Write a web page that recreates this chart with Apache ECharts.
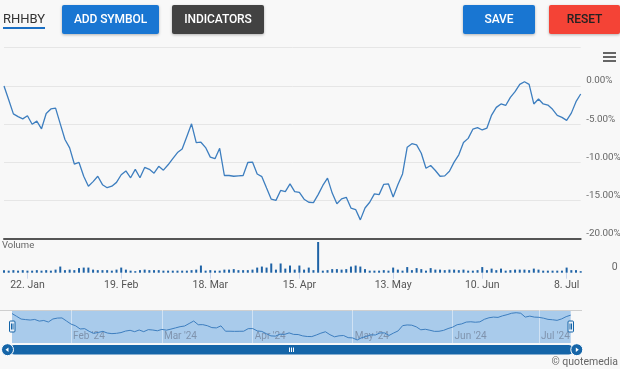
<!DOCTYPE html>
<html>
<head>
<meta charset="utf-8">
<script src="https://cdn.jsdelivr.net/npm/echarts@6/dist/echarts.min.js"></script>
<style>
  html, body { margin: 0; padding: 0; background: #f8f8f8; }
  #wrap { position: relative; width: 620px; height: 369px; overflow: hidden; font-family: Roboto, "Noto Sans", sans-serif; }
  #chart { position: absolute; left: 0; top: 0; width: 620px; height: 369px; }
  .btn { position: absolute; top: 5px; height: 29px; line-height: 29px; text-align: center; font-size: 12px; font-weight: 500; border-radius: 2px; box-shadow: 0 1px 3px rgba(0,0,0,0.28); letter-spacing: -0.1px; }
  #sym { position: absolute; left: 3px; top: 11px; font-size: 13px; color: #333; line-height: 16px; }
  #symline { position: absolute; left: 3px; top: 27px; width: 42px; height: 2px; background: #1a6fc4; }
  .hb { position: absolute; left: 603px; width: 13px; height: 2px; background: #666; }
</style>
</head>
<body>
<div id="wrap">
  <div id="chart"></div>
  <div id="sym">RHHBY</div>
  <div id="symline"></div>
  <div class="btn" style="left:62px;width:97px;background:#1976d2;color:#fff;">ADD SYMBOL</div>
  <div class="btn" style="left:172px;width:92px;background:#424242;color:#fff;">INDICATORS</div>
  <div class="btn" style="left:463px;width:72px;background:#1976d2;color:#fff;">SAVE</div>
  <div class="btn" style="left:549px;width:71px;background:#f44336;color:#222;">RESET</div>
  <div class="hb" style="top:52px"></div>
  <div class="hb" style="top:56px"></div>
  <div class="hb" style="top:60px"></div>
</div>
<script>
const dates = [
  '2024-01-12','2024-01-16','2024-01-17','2024-01-18','2024-01-19','2024-01-22','2024-01-23','2024-01-24','2024-01-25','2024-01-26',
  '2024-01-29','2024-01-30','2024-01-31','2024-02-01','2024-02-02','2024-02-05','2024-02-06','2024-02-07','2024-02-08','2024-02-09',
  '2024-02-12','2024-02-13','2024-02-14','2024-02-15','2024-02-16','2024-02-20','2024-02-21','2024-02-22','2024-02-23','2024-02-26',
  '2024-02-27','2024-02-28','2024-02-29','2024-03-01','2024-03-04','2024-03-05','2024-03-06','2024-03-07','2024-03-08','2024-03-11',
  '2024-03-12','2024-03-13','2024-03-14','2024-03-15','2024-03-18','2024-03-19','2024-03-20','2024-03-21','2024-03-22','2024-03-25',
  '2024-03-26','2024-03-27','2024-03-28','2024-04-01','2024-04-02','2024-04-03','2024-04-04','2024-04-05','2024-04-08','2024-04-09',
  '2024-04-10','2024-04-11','2024-04-12','2024-04-15','2024-04-16','2024-04-17','2024-04-18','2024-04-19','2024-04-22','2024-04-23',
  '2024-04-24','2024-04-25','2024-04-26','2024-04-29','2024-04-30','2024-05-01','2024-05-02','2024-05-03','2024-05-06','2024-05-07',
  '2024-05-08','2024-05-09','2024-05-10','2024-05-13','2024-05-14','2024-05-15','2024-05-16','2024-05-17','2024-05-20','2024-05-21',
  '2024-05-22','2024-05-23','2024-05-24','2024-05-28','2024-05-29','2024-05-30','2024-05-31','2024-06-03','2024-06-04','2024-06-05',
  '2024-06-06','2024-06-07','2024-06-10','2024-06-11','2024-06-12','2024-06-13','2024-06-14','2024-06-17','2024-06-18','2024-06-20',
  '2024-06-21','2024-06-24','2024-06-25','2024-06-26','2024-06-27','2024-06-28','2024-07-01','2024-07-02','2024-07-03','2024-07-05',
  '2024-07-08','2024-07-09','2024-07-10','2024-07-11'
];
const pctChange = [
  0, -1.8, -3.65, -4.0, -4.3, -3.9, -5.0, -4.6, -5.6, -3.6,
  -3.0, -2.9, -4.95, -7.0, -8.1, -10.2, -10.0, -11.8, -13.1, -12.5,
  -11.8, -12.9, -13.3, -13.1, -12.6, -11.6, -11.1, -12.0, -10.9, -12.0,
  -10.65, -10.9, -11.4, -10.5, -11.0, -10.3, -9.5, -8.7, -8.25, -6.6,
  -4.95, -7.4, -7.35, -8.05, -9.3, -9.5, -8.15, -11.7, -11.7, -11.8,
  -11.75, -11.7, -10.0, -9.95, -11.5, -11.85, -13.35, -14.8, -14.95, -13.65,
  -13.8, -12.8, -13.8, -13.9, -14.8, -15.2, -15.25, -14.2, -13.0, -12.05,
  -14.0, -15.4, -14.75, -14.55, -15.95, -16.15, -17.5, -15.95, -15.2, -14.1,
  -14.2, -12.85, -12.8, -14.5, -12.9, -11.5, -8.0, -7.55, -7.7, -8.8,
  -10.75, -10.4, -11.05, -11.8, -11.75, -11.15, -9.95, -9.0, -7.4, -6.85,
  -5.65, -5.45, -5.75, -5.5, -3.8, -2.8, -2.35, -2.55, -1.5, -0.75,
  0.2, 0.55, 0.2, -2.35, -1.7, -2.35, -2.5, -3.05, -3.85, -4.1,
  -4.5, -3.55, -2.05, -1.05
];
const volumeK = [
  50, 40, 50, 40, 50, 40, 40, 50, 40, 50,
  40, 60, 120, 50, 60, 50, 90, 100, 100, 60,
  50, 50, 50, 40, 60, 100, 60, 40, 30, 50,
  60, 50, 50, 50, 40, 40, 40, 40, 40, 40,
  50, 60, 140, 40, 50, 40, 40, 60, 60, 70,
  50, 50, 50, 60, 100, 120, 100, 180, 60, 180,
  80, 140, 60, 140, 60, 100, 50, 600, 40, 50,
  70, 70, 60, 70, 120, 140, 120, 70, 40, 40,
  40, 50, 40, 100, 60, 40, 110, 50, 90, 70,
  40, 90, 60, 60, 50, 60, 60, 50, 60, 40,
  40, 50, 110, 50, 80, 50, 80, 40, 50, 60,
  60, 60, 50, 80, 60, 40, 40, 40, 40, 40,
  100, 50, 50, 30
];
const yTicks = [-20, -15, -10, -5, 0, 5];
const tickDates = ['2024-01-22','2024-02-19','2024-03-18','2024-04-15','2024-05-13','2024-06-10','2024-07-08'];
const tickLabels = ['22. Jan','19. Feb','18. Mar','15. Apr','13. May','10. Jun','8. Jul'];
const navMonths = ['2024-02','2024-03','2024-04','2024-05','2024-06','2024-07'];
const navLabels = ["Feb '24","Mar '24","Apr '24","May '24","Jun '24","Jul '24"];

const tickMap = new Map();
tickDates.forEach((d, k) => {
  const i = dates.findIndex(x => x >= d);
  if (i >= 0) tickMap.set(i, tickLabels[k]);
});
const navMap = new Map();
navMonths.forEach((m, k) => {
  const i = dates.findIndex(x => x.startsWith(m));
  if (i >= 0) navMap.set(i, navLabels[k]);
});

const chart = echarts.init(document.getElementById('chart'), null, { renderer: 'canvas' });
const FONT = 'Roboto, "Noto Sans", sans-serif';
const lineColor = '#3d7ebf';
const darkBlue = '#1565a8';

chart.setOption({
  animation: false,
  backgroundColor: 'transparent',
  textStyle: { fontFamily: FONT },
  grid: [
    { left: 4, right: 39.3, top: 47.7, bottom: 130, containLabel: false, outerBoundsMode: 'none' },
    { left: 4, right: 39.3, top: 242, bottom: 96.3, containLabel: false, outerBoundsMode: 'none' },
    { left: 12, right: 49.3, top: 310, bottom: 26, containLabel: false, outerBoundsMode: 'none' }
  ],
  xAxis: [
    { type: 'category', gridIndex: 0, data: dates, boundaryGap: false,
      axisLine: { show: true, onZero: false, lineStyle: { color: '#555', width: 2 } },
      axisTick: { show: false }, axisLabel: { show: false }, splitLine: { show: false } },
    { type: 'category', gridIndex: 1, data: dates, boundaryGap: false,
      axisLine: { show: false, onZero: false },
      axisTick: { show: true, length: 6, interval: (i) => tickMap.has(i), lineStyle: { color: '#ccd6eb' } },
      axisLabel: { show: true, interval: (i) => tickMap.has(i), formatter: (v, i) => tickMap.get(i) || '',
        color: '#555', fontSize: 10.5, margin: 7, fontFamily: FONT },
      splitLine: { show: false } },
    { type: 'category', gridIndex: 2, data: dates, boundaryGap: false, z: 2,
      axisLine: { show: false, onZero: false }, axisTick: { show: false },
      axisLabel: { show: true, inside: true, interval: (i) => navMap.has(i), formatter: (v, i) => navMap.get(i) || '',
        align: 'left', padding: [0, 0, 0, 2], color: '#7f93ad', fontSize: 10, margin: 2, fontFamily: FONT },
      splitLine: { show: true, interval: (i) => navMap.has(i), lineStyle: { color: 'rgba(255,255,255,0.45)', width: 1 } } }
  ],
  yAxis: [
    { type: 'value', gridIndex: 0, position: 'right', min: yTicks[0], max: yTicks[yTicks.length - 1], interval: 5,
      axisLine: { show: false }, axisTick: { show: false },
      splitLine: { show: true, lineStyle: { color: '#e6e6e6', width: 1 } },
      axisLabel: { show: true, margin: 5.5, verticalAlign: 'bottom', color: '#666', fontSize: 9.8, fontFamily: FONT,
        formatter: (v) => v > 0 ? '' : v.toFixed(2) + '%' } },
    { type: 'value', gridIndex: 1, position: 'right', min: 0, max: 'dataMax',
      axisLine: { show: false }, axisTick: { show: false }, splitLine: { show: false },
      axisLabel: { show: true, margin: 31, verticalAlign: 'bottom', color: '#666', fontSize: 10.5, fontFamily: FONT,
        formatter: (v) => v === 0 ? '0' : '' } },
    { type: 'value', gridIndex: 2, min: -19.5, max: 2.35, show: false }
  ],
  series: [
    { type: 'line', xAxisIndex: 0, yAxisIndex: 0, data: pctChange, showSymbol: false, z: 3,
      lineStyle: { color: lineColor, width: 1.3 }, itemStyle: { color: lineColor } },
    { type: 'bar', xAxisIndex: 1, yAxisIndex: 1, data: volumeK, barWidth: 2,
      itemStyle: { color: '#1f63a6' } },
    { type: 'line', xAxisIndex: 2, yAxisIndex: 2, data: pctChange, showSymbol: false, z: 5,
      lineStyle: { color: lineColor, width: 1 }, itemStyle: { color: lineColor } }
  ],
  graphic: [
    { type: 'text', left: 2, top: 241, z: 10, style: { text: 'Volume', fill: '#666', fontSize: 9.5, fontFamily: FONT } },
    { type: 'line', z: 1, shape: { x1: 0, y1: 310.5, x2: 582, y2: 310.5 }, style: { stroke: '#cfcfcf', lineWidth: 1 } },
    { type: 'rect', z: 1, shape: { x: 12, y: 311, width: 558.7, height: 32 }, style: { fill: '#a9cbeb' } },
    { type: 'rect', z: 10, shape: { x: 9.5, y: 321, width: 5.5, height: 11, r: 1 }, style: { fill: '#e6eef7', stroke: darkBlue, lineWidth: 1 } },
    { type: 'line', z: 11, shape: { x1: 11.5, y1: 323.5, x2: 11.5, y2: 329.5 }, style: { stroke: darkBlue, lineWidth: 1 } },
    { type: 'line', z: 11, shape: { x1: 13, y1: 323.5, x2: 13, y2: 329.5 }, style: { stroke: darkBlue, lineWidth: 1 } },
    { type: 'rect', z: 10, shape: { x: 568, y: 321, width: 5.5, height: 11, r: 1 }, style: { fill: '#e6eef7', stroke: darkBlue, lineWidth: 1 } },
    { type: 'line', z: 11, shape: { x1: 570, y1: 323.5, x2: 570, y2: 329.5 }, style: { stroke: darkBlue, lineWidth: 1 } },
    { type: 'line', z: 11, shape: { x1: 571.5, y1: 323.5, x2: 571.5, y2: 329.5 }, style: { stroke: darkBlue, lineWidth: 1 } },
    { type: 'rect', z: 10, shape: { x: 10, y: 345, width: 563, height: 9.5, r: 4.5 }, style: { fill: darkBlue } },
    { type: 'circle', z: 11, shape: { cx: 7.5, cy: 349.7, r: 6 }, style: { fill: darkBlue, stroke: '#fff', lineWidth: 1 } },
    { type: 'polygon', z: 12, shape: { points: [[5.5, 349.7], [8.5, 347.4], [8.5, 352]] }, style: { fill: '#fff' } },
    { type: 'circle', z: 11, shape: { cx: 576.8, cy: 349.7, r: 6 }, style: { fill: darkBlue, stroke: '#fff', lineWidth: 1 } },
    { type: 'polygon', z: 12, shape: { points: [[578.8, 349.7], [575.8, 347.4], [575.8, 352]] }, style: { fill: '#fff' } },
    { type: 'line', z: 12, shape: { x1: 289.5, y1: 347.5, x2: 289.5, y2: 352 }, style: { stroke: '#fff', lineWidth: 1 } },
    { type: 'line', z: 12, shape: { x1: 291.5, y1: 347.5, x2: 291.5, y2: 352 }, style: { stroke: '#fff', lineWidth: 1 } },
    { type: 'line', z: 12, shape: { x1: 293.5, y1: 347.5, x2: 293.5, y2: 352 }, style: { stroke: '#fff', lineWidth: 1 } },
    { type: 'text', right: 2, top: 357, z: 10, style: { text: '\u00a9 quotemedia', fill: '#666', fontSize: 10.5, fontFamily: FONT } }
  ]
});
</script>
</body>
</html>
